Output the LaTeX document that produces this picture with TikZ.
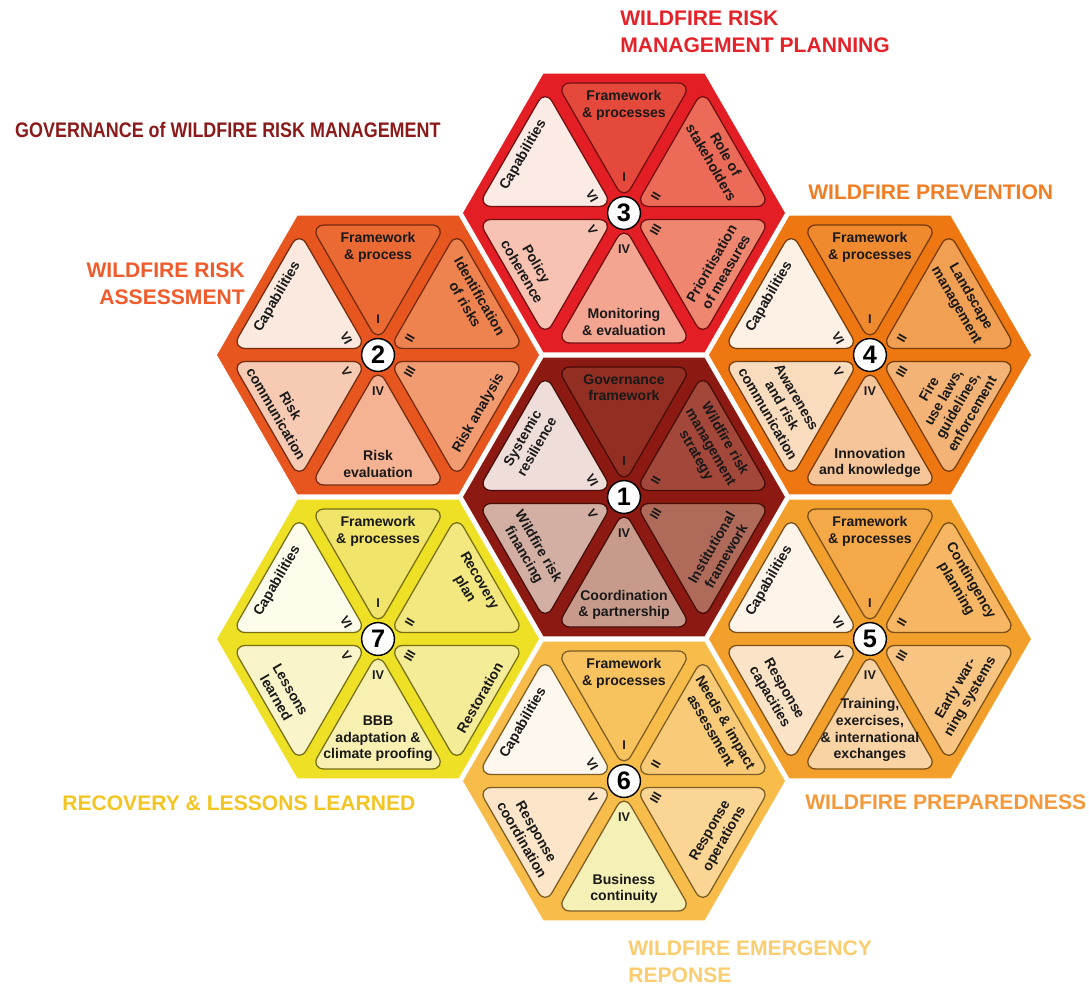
\documentclass[tikz,border=0pt]{standalone}
\usepackage{fontspec}
\setmainfont{Liberation Sans}
\usetikzlibrary{calc}

\definecolor{hexc1}{HTML}{8C1A13}
\definecolor{tri11}{HTML}{932E22}
\definecolor{tri12}{HTML}{A24739}
\definecolor{tri13}{HTML}{B06A5A}
\definecolor{tri14}{HTML}{C89A8B}
\definecolor{tri15}{HTML}{D3AEA3}
\definecolor{tri16}{HTML}{EEDDD8}
\definecolor{hexc2}{HTML}{E8561F}
\definecolor{tri21}{HTML}{EB6A34}
\definecolor{tri22}{HTML}{EF8350}
\definecolor{tri23}{HTML}{F29B70}
\definecolor{tri24}{HTML}{F5B394}
\definecolor{tri25}{HTML}{F7CBB3}
\definecolor{tri26}{HTML}{FBE9DF}
\definecolor{hexc3}{HTML}{E31E24}
\definecolor{tri31}{HTML}{E5493B}
\definecolor{tri32}{HTML}{EC6B58}
\definecolor{tri33}{HTML}{EF8770}
\definecolor{tri34}{HTML}{F3A591}
\definecolor{tri35}{HTML}{F7C2B2}
\definecolor{tri36}{HTML}{FCEAE4}
\definecolor{hexc4}{HTML}{EE7711}
\definecolor{tri41}{HTML}{EF8A2E}
\definecolor{tri42}{HTML}{F19F52}
\definecolor{tri43}{HTML}{F3B276}
\definecolor{tri44}{HTML}{F6C69A}
\definecolor{tri45}{HTML}{F9DBBE}
\definecolor{tri46}{HTML}{FDF0E4}
\definecolor{hexc5}{HTML}{F39F2C}
\definecolor{tri51}{HTML}{F4A847}
\definecolor{tri52}{HTML}{F6B664}
\definecolor{tri53}{HTML}{F7C482}
\definecolor{tri54}{HTML}{F9D3A4}
\definecolor{tri55}{HTML}{FBE3C7}
\definecolor{tri56}{HTML}{FEF4EA}
\definecolor{hexc6}{HTML}{F8BC4A}
\definecolor{tri61}{HTML}{F8C25E}
\definecolor{tri62}{HTML}{F9CB78}
\definecolor{tri63}{HTML}{FAD593}
\definecolor{tri64}{HTML}{F5F0B5}
\definecolor{tri65}{HTML}{FCE5C9}
\definecolor{tri66}{HTML}{FEF7EE}
\definecolor{hexc7}{HTML}{EEE024}
\definecolor{tri71}{HTML}{F0E46A}
\definecolor{tri72}{HTML}{F3E87F}
\definecolor{tri73}{HTML}{F5EC98}
\definecolor{tri74}{HTML}{F7F0B0}
\definecolor{tri75}{HTML}{FAF4CA}
\definecolor{tri76}{HTML}{FEFCEA}
\definecolor{ttlgov}{HTML}{8B1A1A}
\definecolor{ttlplan}{HTML}{E3222A}
\definecolor{ttlass}{HTML}{EF5B2B}
\definecolor{ttlprev}{HTML}{F07E24}
\definecolor{ttlprep}{HTML}{F3993C}
\definecolor{ttlrec}{HTML}{F2C523}
\definecolor{ttlemer}{HTML}{F9CD70}

\newcommand{\hexcell}[7]{%
	\fill[hexc#1] ($(p#1)+(0:161)$) \foreach \a in {60,120,...,300} {-- ($(p#1)+(\a:161)$)} -- cycle;
	\foreach \k/\ang/\rot/\anc/\lab in {1/90/0/north/{#2},2/30/-60/north/{#3},3/-30/60/south/{#4},4/-90/0/south/{#5},5/-150/-60/south/{#6},6/150/60/north/{#7}}{
		\path (p#1) ++(\ang:91) coordinate (m#1\k);
		\draw[tri, fill=tri#1\k, draw=hexc#1!50!black] ($(m#1\k)+(\ang+180:78)$) -- ($(m#1\k)+(\ang+60:78)$) -- ($(m#1\k)+(\ang-60:78)$) -- cycle;
		\node[lab, rotate=\rot, anchor=\anc] (l#1\k) at ($(p#1)+(\ang:123)$) {\lab};
	}
	\foreach \ang/\rot/\num in {90/0/I,28/60/II,-28/60/III,-90/0/IV,-152/-60/V,152/-60/VI}
		\node[rom, rotate=\rot] (r#1\num) at ($(p#1)+(\ang:36)$) {\num};
	\node[numc] (c#1) at (p#1) {#1};
}

\begin{document}
\begin{tikzpicture}[x=0.025cm, y=0.025cm,
	tri/.style={line width=0.9pt, rounded corners=0.35cm},
	lab/.style={inner sep=0pt, align=center, text=black!90, font=\fontsize{10}{11.8}\selectfont\bfseries},
	rom/.style={inner sep=0pt, text=black!90, font=\fontsize{9}{9}\selectfont\bfseries},
	numc/.style={circle, draw=black, fill=white, line width=1pt, minimum size=0.82cm, inner sep=0pt, font=\fontsize{18}{18}\selectfont\bfseries},
	ttl/.style={inner sep=0pt, font=\fontsize{15}{19}\selectfont\bfseries}]
		\useasboundingbox (0,-986) rectangle (1089,0);
		\coordinate (p1) at (624,-497);
		\foreach \n/\a in {3/90,4/30,5/-30,6/-90,7/-150,2/150} \coordinate (p\n) at ($(p1)+(\a:284)$);
		\hexcell{1}{Governance\\framework}{Wildfire risk\\management\\strategy}{Institutional\\framework}{Coordination\\\& partnership}{Wildfire risk\\financing}{Systemic\\resilience}
		\hexcell{2}{Framework\\\& process}{Identification\\of risks}{Risk analysis}{Risk\\evaluation}{Risk\\communication}{Capabilities}
		\hexcell{3}{Framework\\\& processes}{Role of\\stakeholders}{Prioritisation\\of measures}{Monitoring\\\& evaluation}{Policy\\coherence}{Capabilities}
		\hexcell{4}{Framework\\\& processes}{Landscape\\management}{Fire\\use laws,\\guidelines,\\enforcement}{Innovation\\and knowledge}{Awareness\\and risk\\communication}{Capabilities}
		\hexcell{5}{Framework\\\& processes}{Contingency\\planning}{Early war-\\ning systems}{Training,\\exercises,\\\& international\\exchanges}{Response\\capacities}{Capabilities}
		\hexcell{6}{Framework\\\& processes}{Needs \& impact\\assessment}{Response\\operations}{Business\\continuity}{Response\\coordination}{Capabilities}
		\hexcell{7}{Framework\\\& processes}{Recovery\\plan}{Restoration}{BBB\\adaptation \&\\climate proofing}{Lessons\\learned}{Capabilities}
		\node[ttl, text=ttlgov, anchor=west, xscale=0.85] (tgov) at (15,-130) {GOVERNANCE of WILDFIRE RISK MANAGEMENT};
		\node[ttl, text=ttlplan, anchor=west, align=left] (tplan) at (620,-32) {WILDFIRE RISK\\MANAGEMENT PLANNING};
		\node[ttl, text=ttlass, anchor=east, align=right] (tass) at (245,-284) {WILDFIRE RISK\\ASSESSMENT};
		\node[ttl, text=ttlprev, anchor=west] (tprev) at (808,-192) {WILDFIRE PREVENTION};
		\node[ttl, text=ttlprep, anchor=west] (tprep) at (805,-802) {WILDFIRE PREPAREDNESS};
		\node[ttl, text=ttlrec, anchor=west] (trec) at (62,-803) {RECOVERY \& LESSONS LEARNED};
		\node[ttl, text=ttlemer, anchor=west, align=left] (temer) at (628,-962) {WILDFIRE EMERGENCY\\REPONSE};
	\end{tikzpicture}
\end{document}
